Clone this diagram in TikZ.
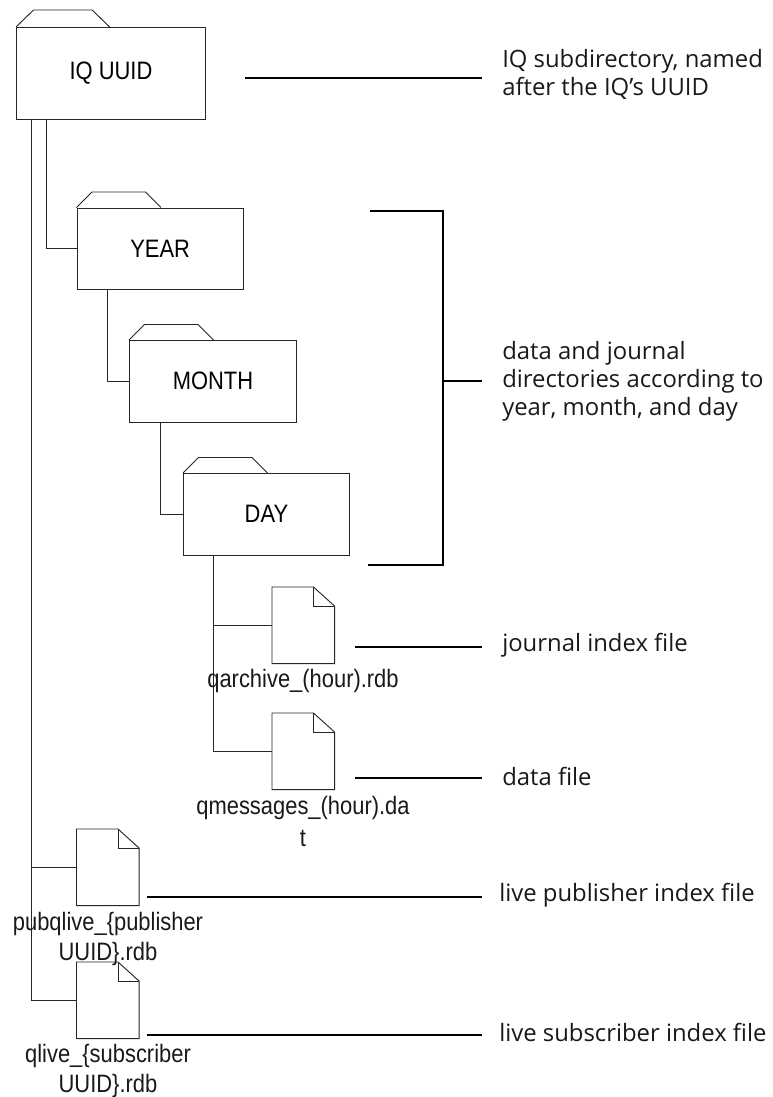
\documentclass[tikz,border=0pt]{standalone}
\usepackage{fontspec}
\setmainfont{Open Sans}
\newfontfamily\narrowfont[FakeStretch=0.87]{Liberation Sans}
\tikzset{
  x=0.75pt,y=-0.75pt,
  thinline/.style={draw=black!85,line width=0.7pt},
  leader/.style={draw=black,line width=1.2pt},
  folderbox/.style={draw=black!85,line width=0.7pt,fill=white,inner sep=0pt,anchor=north west,
     font=\narrowfont\fontsize{18.9}{22}\selectfont},
  filebox/.style={inner sep=0pt,anchor=north west,minimum width=62*0.75pt,minimum height=76*0.75pt},
  filelabel/.style={font=\narrowfont\fontsize{18.9}{22.5}\selectfont,align=center,inner sep=0pt,text=black!90},
  note/.style={font=\fontsize{17.9}{21}\selectfont,align=left,inner sep=0pt,anchor=west,text=black!90},
}
% #1 name, #2 x, #3 y, #4 width, #5 height, #6 text, #7 #8 tab offsets
\newcommand{\folderitem}[8]{%
  \node[folderbox,minimum width=#4*0.75pt,minimum height=#5*0.75pt] (#1) at (#2,#3) {#6};
  \draw[thinline] (#1.north west) -- ++(#7,-#8) -- ++(#8*3.45,0) -- ++(#7,#8);
}
\newcommand{\fileitem}[3]{%
  \node[filebox] (#1) at (#2,#3) {};
  \draw[thinline] (#1.north west) -- ++(41.5,0) -- ([yshift=-19*0.75pt]#1.north east) -- (#1.south east) -- (#1.south west) -- cycle;
  \draw[thinline] ([xshift=41.5*0.75pt]#1.north west) -- ++(0,19) -- ([yshift=-19*0.75pt]#1.north east);
}
\begin{document}
\begin{tikzpicture}
\useasboundingbox (0,0) rectangle (773,1097);
\coordinate (trunk) at (31,119);
\coordinate (yearbranch) at (46,119);
\coordinate (monthbranch) at (107,289);
\coordinate (daybranch) at (160,422);
\coordinate (filetrunk) at (213,555);

\folderitem{iq}{16}{27}{189}{92}{\raisebox{-2pt}{IQ UUID}}{17.5}{17}
\folderitem{year}{76.5}{207.5}{166.5}{81.5}{\raisebox{-0.5pt}{YEAR}}{15.5}{15.5}
\folderitem{month}{129}{340}{167}{82}{\raisebox{1pt}{MONTH}}{15.5}{15.5}
\folderitem{day}{183}{473}{166}{82}{\raisebox{1pt}{DAY}}{15.5}{15.5}

\fileitem{jfile}{272}{587}
\fileitem{dfile}{272}{713}
\fileitem{pfile}{76.5}{829}
\fileitem{sfile}{76.5}{962}

\draw[thinline] (trunk) |- (sfile.west |- 0,1000);
\draw[thinline] (trunk |- 0,867) -- (pfile.west |- 0,867);
\draw[thinline] (yearbranch) |- (year.west);
\draw[thinline] (monthbranch) |- (month.west);
\draw[thinline] (daybranch) |- (day.west);
\draw[thinline] (filetrunk) |- (dfile.west |- 0,751.5);
\draw[thinline] (filetrunk |- 0,625) -- (jfile.west |- 0,625);

\node[filelabel] (jlabel) at (303,681) {qarchive\_(hour).rdb};
\node[filelabel,font=\narrowfont\fontsize{18.9}{24}\selectfont] (dlabel) at (303,821) {qmessages\_(hour).da\\t};
\node[filelabel] (plabel) at (108,939) {pubqlive\_\{publisher\\UUID\}.rdb};
\node[filelabel] (slabel) at (108,1071) {qlive\_\{subscriber\\UUID\}.rdb};

\node[note] (n1) at (502,74) {IQ subdirectory, named\\after the IQ’s UUID};
\node[note] (n2) at (502,381) {data and journal\\directories according to\\year, month, and day};
\node[note] (n3) at (502,645) {journal index file};
\node[note] (n4) at (502,776) {data file};
\node[note] (n5) at (499,895) {live publisher index file};
\node[note] (n6) at (499,1032) {live subscriber index file};

\coordinate (l1) at (245,78);
\coordinate (b1) at (370,211);
\coordinate (b2) at (368,565);
\coordinate (bx) at (443,381);
\coordinate (l3) at (355,647);
\coordinate (l4) at (355,778);
\coordinate (l5) at (147,897);
\coordinate (l6) at (147,1035);
\coordinate (e) at (482,0);
\draw[leader] (l1) -- (e |- l1);
\draw[leader] (b1) -| (bx |- b2) -- (b2);
\draw[leader] (bx) -- (e |- bx);
\draw[leader] (l3) -- (e |- l3);
\draw[leader] (l4) -- (e |- l4);
\draw[leader] (l5) -- (e |- l5);
\draw[leader] (l6) -- (e |- l6);
\end{tikzpicture}
\end{document}
